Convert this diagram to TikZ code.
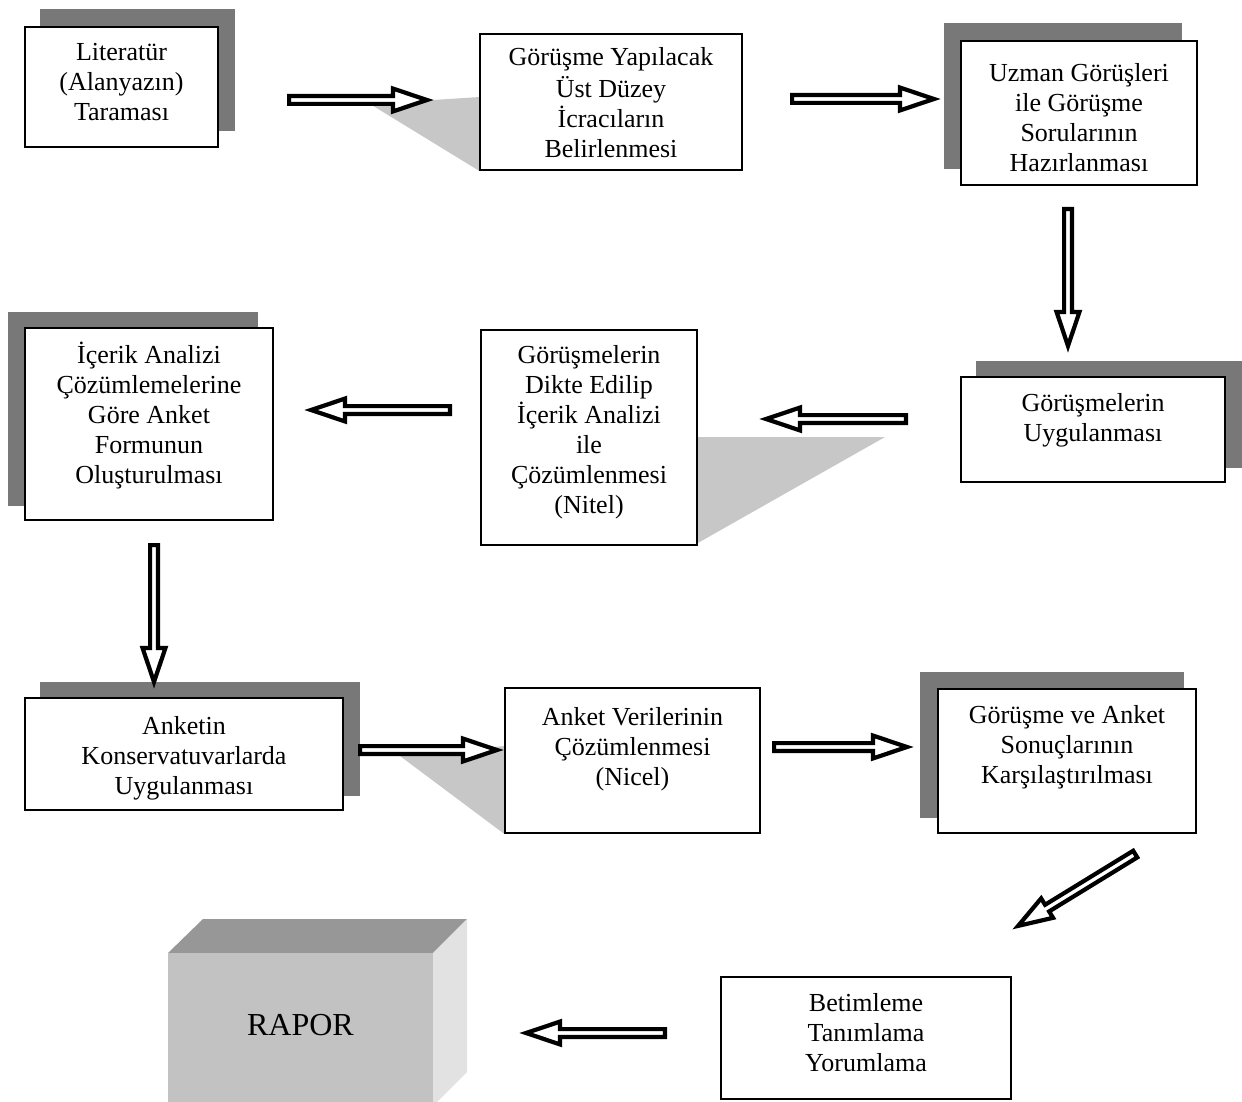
\documentclass[tikz,border=0pt]{standalone}
\usepackage{fontspec}
\setmainfont{Liberation Serif}
\usetikzlibrary{calc,backgrounds}
\definecolor{shd}{gray}{0.47}
\definecolor{lshd}{gray}{0.78}
\definecolor{rfront}{HTML}{C2C2C2}
\definecolor{rtop}{HTML}{979797}
\definecolor{rside}{HTML}{E2E2E2}
\tikzset{
  box/.style={draw=black, line width=1.7pt, fill=white, inner sep=0pt,
    font=\fontsize{26}{30}\selectfont},
  blk/.style={draw=black, fill=white, line width=4.2pt, line join=miter, miter limit=20},
  shadowfill/.style={fill=shd},
  lightfill/.style={fill=lshd},
}
% width, height, top gap, text
\newcommand\bt[4]{\parbox[c][#2pt][t]{\dimexpr#1pt-10pt\relax}{\centering\vspace*{#3pt}\strut #4}}
% name, cx, cy, W, H, gap, text
\newcommand\boxnode[7]{\node[box, minimum width=#4pt, minimum height=#5pt] (#1) at (#2,#3) {\bt{#4}{#5}{#6}{#7}};}
\newcommand\blkarrow[2]{%
  \draw[blk] let \p1=(#1), \p2=(#2), \n1={atan2(\y2-\y1,\x2-\x1)} in
    ($(#1)+(\n1:2.1pt)+(\n1+90:3.9pt)$) --
    ($(#2)+(\n1:-40pt)+(\n1+90:3.9pt)$) --
    ($(#2)+(\n1:-40pt)+(\n1+90:11.4pt)$) --
    ($(#2)+(\n1:-6pt)$) --
    ($(#2)+(\n1:-40pt)+(\n1-90:11.4pt)$) --
    ($(#2)+(\n1:-40pt)+(\n1-90:3.9pt)$) --
    ($(#1)+(\n1:2.1pt)+(\n1-90:3.9pt)$) -- cycle;}
\begin{document}
\begin{tikzpicture}[x=1pt, y=-1pt]
\useasboundingbox (0,0) rectangle (1242,1102);

% boxes
\boxnode{b1}{121.5}{87}{193}{120}{13}{Literatür\\(Alanyazın)\\Taraması}
\boxnode{b2}{611}{102}{262}{136}{11}{Görüşme Yapılacak\\Üst Düzey\\İcracıların\\Belirlenmesi}
\boxnode{b3}{1079}{113}{236}{144}{20}{Uzman Görüşleri\\ile Görüşme\\Sorularının\\Hazırlanması}
\boxnode{b4}{1093}{429.5}{264}{105}{13}{Görüşmelerin\\Uygulanması}
\boxnode{b5}{589}{437.5}{216}{215}{12}{Görüşmelerin\\Dikte Edilip\\İçerik Analizi\\ile\\Çözümlenmesi\\(Nitel)}
\boxnode{b6}{149}{424}{248}{192}{14}{İçerik Analizi\\Çözümlemelerine\\Göre Anket\\Formunun\\Oluşturulması}
\boxnode{b7}{184}{754}{318}{112}{15}{Anketin\\Konservatuvarlarda\\Uygulanması}
\boxnode{b8}{632.5}{760.5}{255}{145}{16}{Anket Verilerinin\\Çözümlenmesi\\(Nicel)}
\boxnode{b9}{1067}{761}{258}{144}{13}{Görüşme ve Anket\\Sonuçlarının\\Karşılaştırılması}
\boxnode{b10}{866}{1038}{290}{122}{13}{Betimleme\\Tanımlama\\Yorumlama}

% shadows and light wedges
\begin{scope}[on background layer]
  \fill[shadowfill] ($(b1.south west)+(16,-17)$) rectangle ($(b1.north east)+(16,-17)$);
  \fill[shadowfill] ($(b3.south west)+(-16,-17)$) rectangle ($(b3.north east)+(-16,-17)$);
  \fill[shadowfill] ($(b4.south west)+(16,-15)$) rectangle ($(b4.north east)+(16,-15)$);
  \fill[shadowfill] ($(b6.south west)+(-16,-15)$) rectangle ($(b6.north east)+(-16,-15)$);
  \fill[shadowfill] ($(b7.south west)+(16,-15)$) rectangle ($(b7.north east)+(16,-15)$);
  \fill[shadowfill] ($(b9.south west)+(-17,-16)$) rectangle ($(b9.north east)+(-13,-16)$);
  \fill[lightfill] (370,104) -- (480,97) -- (b2.south west) -- cycle;
  \fill[lightfill] (885,437) -- (b5.east |- 0,437) -- (b5.east |- 0,543) -- cycle;
  \fill[lightfill] (400,756) -- (505,746) -- (b8.south west) -- cycle;
\end{scope}

% RAPOR block
\fill[rtop] (168,953) -- (203,919) -- (467,919) -- (433,953) -- cycle;
\fill[rside] (433,953) -- (467,919) -- (467,1072) -- (433,1106) -- cycle;
\node[fill=rfront, minimum width=265pt, minimum height=157pt, inner sep=0pt,
  font=\fontsize{32}{36}\selectfont] (rapor) at (300.5,1031.5) {\raisebox{13pt}{RAPOR}};

% arrow end points
\coordinate (a1s) at (287,100);   \coordinate (a1e) at (433,100);
\coordinate (a2s) at (790,99);    \coordinate (a2e) at (940,99);
\coordinate (a3s) at (1068,207);  \coordinate (a3e) at (1068,352);
\coordinate (a4s) at (908,419);   \coordinate (a4e) at (760,419);
\coordinate (a5s) at (452,410);   \coordinate (a5e) at (305,410);
\coordinate (a6s) at (154,543);   \coordinate (a6e) at (154,688);
\coordinate (a7s) at (358,750);   \coordinate (a7e) at (503,750);
\coordinate (a8s) at (772,747);   \coordinate (a8e) at (913,747);
\coordinate (a9s) at (1137,853);  \coordinate (a9e) at (1013,929);
\coordinate (a10s) at (667,1033); \coordinate (a10e) at (520,1033);

\blkarrow{a1s}{a1e}
\blkarrow{a2s}{a2e}
\blkarrow{a3s}{a3e}
\blkarrow{a4s}{a4e}
\blkarrow{a5s}{a5e}
\blkarrow{a6s}{a6e}
\blkarrow{a7s}{a7e}
\blkarrow{a8s}{a8e}
\blkarrow{a9s}{a9e}
\blkarrow{a10s}{a10e}
\end{tikzpicture}
\end{document}
